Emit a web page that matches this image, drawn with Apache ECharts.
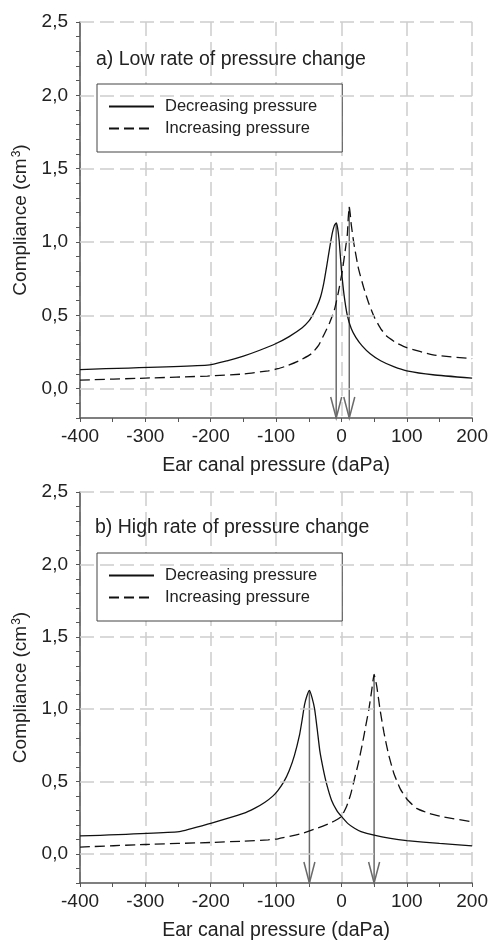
<!DOCTYPE html>
<html>
<head>
<meta charset="utf-8">
<script src="https://cdn.jsdelivr.net/npm/echarts@6/dist/echarts.min.js"></script>
<style>
  html, body { margin: 0; padding: 0; background: #fff; }
  #chart { width: 491px; height: 942px; }
</style>
</head>
<body>
<div id="chart"></div>
<script>
// a) low rate of pressure change
var aDecX = [-400, -205, -175, -150, -125, -100, -80, -60, -50, -45, -38, -32, -27, -22, -18, -14, -11, -8, -6, -3.5, 0, 4, 9, 15, 22, 32, 44, 60, 80, 100, 140, 200];
var aDecY = [0.13, 0.16, 0.19, 0.222, 0.262, 0.308, 0.355, 0.415, 0.46, 0.495, 0.555, 0.625, 0.72, 0.85, 0.96, 1.06, 1.11, 1.13, 1.1, 1.01, 0.81, 0.64, 0.50, 0.41, 0.35, 0.29, 0.238, 0.19, 0.15, 0.122, 0.095, 0.072];
var aIncX = [-400, -300, -205, -150, -112, -97, -82, -65, -46, -35, -26, -18, -11, -5, 1.5, 6, 9, 10.5, 12, 13.5, 15, 19, 26, 34, 42, 50, 60, 70, 85, 100, 140, 200];
var aIncY = [0.058, 0.072, 0.086, 0.1, 0.122, 0.136, 0.158, 0.19, 0.238, 0.295, 0.375, 0.45, 0.534, 0.65, 0.806, 0.95, 1.05, 1.17, 1.24, 1.19, 1.12, 0.99, 0.82, 0.69, 0.58, 0.49, 0.41, 0.355, 0.31, 0.28, 0.23, 0.205];
var aPeakX = [-8, 12];
var aPeakY = [1.13, 1.24];

// b) high rate of pressure change
var bDecX = [-400, -248, -200, -150, -133, -117, -105, -97, -88, -80, -72, -64, -60, -56.5, -53, -49, -45, -41, -37, -33, -28, -23, -15, -7, 0, 10, 20, 30, 50, 75, 100, 150, 200];
var bDecY = [0.125, 0.155, 0.212, 0.28, 0.315, 0.358, 0.4, 0.44, 0.5, 0.575, 0.68, 0.825, 0.93, 1.03, 1.09, 1.13, 1.08, 1.0, 0.86, 0.71, 0.59, 0.49, 0.37, 0.3, 0.26, 0.21, 0.178, 0.155, 0.13, 0.108, 0.093, 0.073, 0.057];
var bIncX = [-400, -300, -200, -150, -112, -97, -62, -36, -20, -10, 0, 8, 14, 20, 26, 32, 37, 42, 46, 50, 54, 59, 65, 72, 80, 90, 100, 115, 135, 155, 200];
var bIncY = [0.048, 0.066, 0.08, 0.089, 0.098, 0.105, 0.14, 0.18, 0.208, 0.23, 0.26, 0.33, 0.41, 0.52, 0.63, 0.76, 0.88, 1.0, 1.12, 1.24, 1.16, 1.0, 0.84, 0.69, 0.56, 0.45, 0.38, 0.315, 0.28, 0.257, 0.223];
var bPeakX = [-49, 50];
var bPeakY = [1.13, 1.24];

var yGridValues = [0, 0.5, 1.0, 1.5, 2.0, 2.5];
var legendNames = ['Decreasing pressure', 'Increasing pressure'];
var panelTitles = ['a) Low rate of pressure change', 'b) High rate of pressure change'];

var FONT = 'Liberation Sans, Arial, sans-serif';
var Y_MIN = -0.2;

function pairs(xs, ys) {
  var out = [];
  for (var i = 0; i < xs.length; i++) out.push([xs[i], ys[i]]);
  return out;
}

function yLabel(v) {
  if (Math.abs(v * 2 - Math.round(v * 2)) > 1e-6) return '';
  if (Math.abs(v) < 1e-9) v = 0;
  return v.toFixed(1).replace('.', ',');
}

function makeX(idx) {
  return {
    type: 'value', gridIndex: idx, min: -400, max: 200, interval: 100,
    name: 'Ear canal pressure (daPa)', nameLocation: 'middle', nameGap: 38,
    nameTextStyle: { fontSize: 19.5, color: '#222', fontFamily: FONT },
    axisLine: { onZero: false, lineStyle: { color: '#555', width: 1.5 } },
    axisTick: { show: true, length: 4, lineStyle: { color: '#555' } },
    minorTick: { show: true, splitNumber: 2, length: 4, lineStyle: { color: '#555' } },
    axisLabel: { fontSize: 19, color: '#222', margin: 9, fontFamily: FONT },
    splitLine: { show: true, lineStyle: { color: '#cdcdcd', type: [14, 6], width: 1.5 } }
  };
}

function makeY(idx) {
  return {
    type: 'value', gridIndex: idx, min: Y_MIN, max: 2.5, interval: 0.1,
    name: 'Compliance (cm{sup|3})', nameLocation: 'middle', nameGap: 47,
    nameTextStyle: {
      fontSize: 19, color: '#222', fontFamily: FONT,
      rich: { sup: { fontSize: 12, color: '#222', fontFamily: FONT, verticalAlign: 'top', padding: [0, 0, 9, 1] } }
    },
    axisLine: { show: true, onZero: false, lineStyle: { color: '#555', width: 1.5 } },
    axisTick: { show: true, length: 4, lineStyle: { color: '#555' } },
    axisLabel: { fontSize: 19, color: '#222', margin: 12, fontFamily: FONT, formatter: yLabel },
    splitLine: { show: false }
  };
}

function arrowSeries(idx, xs, ys) {
  return {
    type: 'custom', xAxisIndex: idx, yAxisIndex: idx, z: 2, silent: true,
    data: pairs(xs, ys),
    renderItem: function (params, api) {
      var top = api.coord([api.value(0), api.value(1)]);
      var tip = api.coord([api.value(0), Y_MIN]);
      var st = { stroke: '#6a6a6a', lineWidth: 1.5, fill: null };
      return {
        type: 'group',
        children: [
          { type: 'line', shape: { x1: top[0], y1: top[1], x2: tip[0], y2: tip[1] }, style: st },
          { type: 'polyline', shape: { points: [[tip[0] - 5.5, tip[1] - 21], [tip[0], tip[1]], [tip[0] + 5.5, tip[1] - 21]] }, style: st }
        ]
      };
    }
  };
}

function gridLineSeries(idx) {
  return {
    type: 'line', xAxisIndex: idx, yAxisIndex: idx, z: 1, data: [], silent: true,
    markLine: {
      silent: true, symbol: 'none', animation: false,
      label: { show: false },
      lineStyle: { color: '#cdcdcd', type: [14, 6], width: 1.5 },
      data: yGridValues.map(function (v) { return { yAxis: v }; })
    }
  };
}

function curve(idx, name, xs, ys, dashed) {
  return {
    type: 'line', name: name, xAxisIndex: idx, yAxisIndex: idx, z: 3,
    data: pairs(xs, ys), symbol: 'none', showSymbol: false, smooth: 0.15,
    lineStyle: { color: '#111', width: 1.3, type: dashed ? [10, 5] : 'solid' },
    itemStyle: { color: '#111' }
  };
}

function makeLegend(top) {
  return {
    data: legendNames, orient: 'vertical', left: 97, top: top,
    padding: [14, 25, 15, 11], itemGap: 5, itemWidth: 45, itemHeight: 14,
    borderColor: '#444', borderWidth: 1, backgroundColor: '#fff',
    itemStyle: { opacity: 0 },
    textStyle: { fontSize: 16.5, color: '#222', fontFamily: FONT, padding: [0, 0, 0, 6] }
  };
}

var myChart = echarts.init(document.getElementById('chart'));
var option = {
  backgroundColor: '#fff',
  animation: false,
  title: [
    { text: panelTitles[0], left: 96, top: 50, padding: 0, textStyle: { fontSize: 19.5, fontWeight: 'normal', color: '#222', fontFamily: FONT } },
    { text: panelTitles[1], left: 95, top: 518, padding: 0, textStyle: { fontSize: 19.5, fontWeight: 'normal', color: '#222', fontFamily: FONT } }
  ],
  legend: [makeLegend(84), makeLegend(553)],
  grid: [
    { left: 80, right: 14, top: 22, height: 396 },
    { left: 80, right: 14, top: 492, height: 395 }
  ],
  xAxis: [makeX(0), makeX(1)],
  yAxis: [makeY(0), makeY(1)],
  series: [
    gridLineSeries(0),
    gridLineSeries(1),
    arrowSeries(0, aPeakX, aPeakY),
    arrowSeries(1, bPeakX, bPeakY),
    curve(0, legendNames[0], aDecX, aDecY, false),
    curve(0, legendNames[1], aIncX, aIncY, true),
    curve(1, legendNames[0], bDecX, bDecY, false),
    curve(1, legendNames[1], bIncX, bIncY, true)
  ]
};
myChart.setOption(option);
</script>
</body>
</html>
